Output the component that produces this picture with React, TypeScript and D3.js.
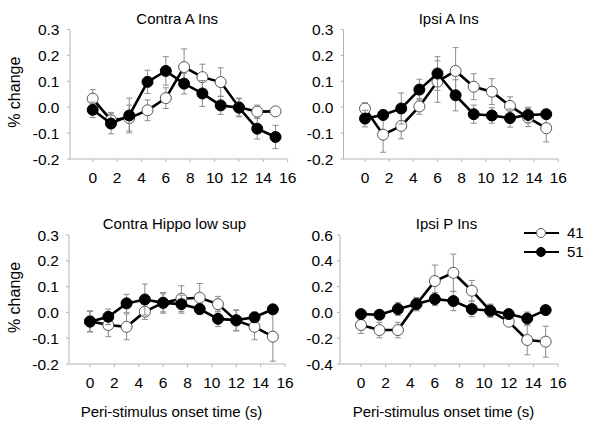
import React, { useEffect, useRef } from "react";
import * as d3 from "d3";

const times = [0, 1.5, 3, 4.5, 6, 7.5, 9, 10.5, 12, 13.5, 15];
const xTicks = [0, 2, 4, 6, 8, 10, 12, 14, 16];
const seriesNames = ["41", "51"];
const panelTitles = ["Contra A Ins", "Ipsi A Ins", "Contra Hippo low sup", "Ipsi P Ins"];
const yTicksSmall = [-0.2, -0.1, 0.0, 0.1, 0.2, 0.3];
const yTicksLarge = [-0.4, -0.2, 0.0, 0.2, 0.4, 0.6];

const contraA41 = [0.033, -0.05, -0.042, -0.012, 0.035, 0.155, 0.116, 0.097, 0.0, -0.017, -0.016];
const contraA41Err = [0.035, 0.03, 0.05, 0.04, 0.04, 0.07, 0.05, 0.055, 0.035, 0.025, 0.01];
const contraA51 = [-0.01, -0.063, -0.032, 0.098, 0.14, 0.091, 0.053, 0.007, -0.002, -0.083, -0.115];
const contraA51Err = [0.03, 0.04, 0.067, 0.045, 0.055, 0.04, 0.05, 0.035, 0.035, 0.04, 0.045];

const ipsiA41 = [-0.005, -0.106, -0.072, 0.003, 0.099, 0.14, 0.079, 0.06, 0.005, -0.04, -0.081];
const ipsiA41Err = [0.022, 0.068, 0.05, 0.03, 0.08, 0.09, 0.05, 0.05, 0.035, 0.035, 0.053];
const ipsiA51 = [-0.044, -0.03, -0.005, 0.068, 0.13, 0.046, -0.027, -0.032, -0.042, -0.03, -0.027];
const ipsiA51Err = [0.032, 0.018, 0.06, 0.04, 0.065, 0.06, 0.035, 0.03, 0.035, 0.03, 0.01];

const hippo41 = [-0.034, -0.049, -0.056, 0.003, 0.037, 0.053, 0.057, 0.032, -0.032, -0.056, -0.094];
const hippo41Err = [0.04, 0.045, 0.05, 0.03, 0.035, 0.05, 0.055, 0.03, 0.04, 0.05, 0.095];
const hippo51 = [-0.036, -0.017, 0.035, 0.05, 0.037, 0.032, 0.013, -0.025, -0.03, -0.019, 0.012];
const hippo51Err = [0.04, 0.03, 0.035, 0.06, 0.04, 0.035, 0.02, 0.03, 0.04, 0.02, 0.01];

const ipsiP41 = [-0.098, -0.137, -0.137, 0.062, 0.243, 0.307, 0.168, 0.013, -0.072, -0.214, -0.227];
const ipsiP41Err = [0.065, 0.06, 0.06, 0.05, 0.124, 0.145, 0.08, 0.05, 0.03, 0.115, 0.12];
const ipsiP51 = [-0.013, -0.018, 0.026, 0.065, 0.103, 0.088, 0.026, 0.013, -0.013, -0.047, 0.018];
const ipsiP51Err = [0.02, 0.02, 0.05, 0.05, 0.05, 0.075, 0.06, 0.05, 0.03, 0.05, 0.01];

const FONT = "Liberation Sans, Arial, sans-serif";

export default function App() {
  const ref = useRef<SVGSVGElement | null>(null);

  useEffect(() => {
    const svg = d3.select(ref.current);
    svg.selectAll("*").remove();

    const panels = [
      { title: panelTitles[0], open: contraA41, openErr: contraA41Err, filled: contraA51, filledErr: contraA51Err, yTicks: yTicksSmall, left: 70, x0: 92.7, x16: 287.7, top: 29.5, bottom: 159, ylabel: true, xlabel: false, lblGap: 10.5 },
      { title: panelTitles[1], open: ipsiA41, openErr: ipsiA41Err, filled: ipsiA51, filledErr: ipsiA51Err, yTicks: yTicksSmall, left: 343.5, x0: 365, x16: 558.3, top: 29.5, bottom: 159, ylabel: false, xlabel: false, lblGap: 10 },
      { title: panelTitles[2], open: hippo41, openErr: hippo41Err, filled: hippo51, filledErr: hippo51Err, yTicks: yTicksSmall, left: 69, x0: 90, x16: 285, top: 235, bottom: 364, ylabel: true, xlabel: true, lblGap: 10 },
      { title: panelTitles[3], open: ipsiP41, openErr: ipsiP41Err, filled: ipsiP51, filledErr: ipsiP51Err, yTicks: yTicksLarge, left: 340, x0: 361, x16: 558, top: 235, bottom: 364, ylabel: false, xlabel: true, lblGap: 7 },
    ];

    const axisColor = "#b4b4b4";
    const errColor = "#8c8c8c";

    panels.forEach((p) => {
      const x = d3.scaleLinear().domain([0, 16]).range([p.x0, p.x16]);
      const y = d3.scaleLinear().domain([p.yTicks[0], p.yTicks[p.yTicks.length - 1]]).range([p.bottom, p.top]);
      const g = svg.append("g");

      // y axis
      g.append("line").attr("x1", p.left).attr("x2", p.left).attr("y1", p.top).attr("y2", p.bottom)
        .attr("stroke", axisColor).attr("stroke-width", 1);
      p.yTicks.forEach((t) => {
        g.append("line").attr("x1", p.left - 3).attr("x2", p.left).attr("y1", y(t)).attr("y2", y(t))
          .attr("stroke", axisColor);
        g.append("text").attr("x", p.left - p.lblGap).attr("y", y(t)).attr("dy", "0.36em")
          .attr("text-anchor", "end").attr("font-family", FONT).attr("font-size", 15.5).attr("fill", "#000")
          .text(d3.format(".1f")(t).replace("−", "-"));
      });
      // x axis
      g.append("line").attr("x1", p.left).attr("x2", x(16)).attr("y1", p.bottom).attr("y2", p.bottom)
        .attr("stroke", axisColor);
      xTicks.forEach((t) => {
        g.append("line").attr("x1", x(t)).attr("x2", x(t)).attr("y1", p.bottom).attr("y2", p.bottom + 3)
          .attr("stroke", axisColor);
        g.append("text").attr("x", x(t)).attr("y", p.bottom + 24).attr("text-anchor", "middle")
          .attr("font-family", FONT).attr("font-size", 15.5).attr("fill", "#000").text(String(t));
      });
      // title
      g.append("text").attr("x", (p.x0 + p.x16) / 2 - 13).attr("y", p.top - 6).attr("text-anchor", "middle")
        .attr("font-family", FONT).attr("font-size", 15).attr("fill", "#000").text(p.title);
      if (p.ylabel) {
        const cy = (p.top + p.bottom) / 2 - 2;
        g.append("text").attr("transform", `translate(14,${cy}) rotate(-90)`).attr("dy", "0.36em")
          .attr("text-anchor", "middle").attr("font-family", FONT).attr("font-size", 16).attr("fill", "#000")
          .text("% change");
      }
      if (p.xlabel) {
        g.append("text").attr("x", (p.x0 + p.x16) / 2 - 16).attr("y", 417).attr("text-anchor", "middle")
          .attr("font-family", FONT).attr("font-size", 15).attr("fill", "#000").text("Peri-stimulus onset time (s)");
      }

      const drawSeries = (vals: number[], errs: number[], filled: boolean) => {
        const sg = g.append("g");
        vals.forEach((v, i) => {
          const cx = x(times[i]);
          sg.append("line").attr("x1", cx).attr("x2", cx).attr("y1", y(v - errs[i])).attr("y2", y(v + errs[i]))
            .attr("stroke", errColor).attr("stroke-width", 1);
          [v - errs[i], v + errs[i]].forEach((e) => {
            sg.append("line").attr("x1", cx - 3).attr("x2", cx + 3).attr("y1", y(e)).attr("y2", y(e))
              .attr("stroke", errColor).attr("stroke-width", 1);
          });
        });
        const line = d3.line<number>().x((_, i) => x(times[i])).y((v) => y(v));
        sg.append("path").attr("d", line(vals) as string).attr("fill", "none").attr("stroke", "#000")
          .attr("stroke-width", 2.6);
        vals.forEach((v, i) => {
          sg.append("circle").attr("cx", x(times[i])).attr("cy", y(v)).attr("r", 5.5)
            .attr("fill", filled ? "#000" : "#fff").attr("stroke", filled ? "#000" : "#555").attr("stroke-width", 1);
        });
      };
      drawSeries(p.open, p.openErr, false);
      drawSeries(p.filled, p.filledErr, true);
    });

    // legend
    const lg = svg.append("g");
    [0, 1].forEach((k) => {
      const ly = 233 + k * 19;
      lg.append("line").attr("x1", 524).attr("x2", 559).attr("y1", ly).attr("y2", ly)
        .attr("stroke", "#000").attr("stroke-width", 2.2);
      lg.append("circle").attr("cx", 541).attr("cy", ly).attr("r", 4.5)
        .attr("fill", k === 0 ? "#fff" : "#000").attr("stroke", k === 0 ? "#555" : "#000").attr("stroke-width", 1);
      lg.append("text").attr("x", 567).attr("y", ly).attr("dy", "0.36em").attr("font-family", FONT)
        .attr("font-size", 15).attr("fill", "#000").text(seriesNames[k]);
    });
  }, []);

  return (
    <svg ref={ref} width={600} height={426} style={{ position: "absolute", left: 0, top: 0, background: "#fff" }} />
  );
}
